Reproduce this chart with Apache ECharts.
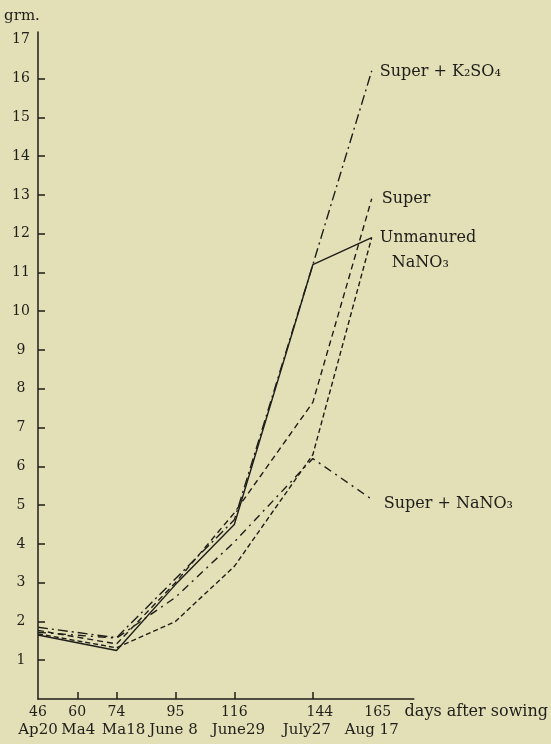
<!DOCTYPE html>
<html>
<head>
<meta charset="utf-8">
<script src="https://cdn.jsdelivr.net/npm/echarts@6/dist/echarts.min.js"></script>
<style>
html,body{margin:0;padding:0;background:#e3dfb6;}
#chart{width:551px;height:744px;}
</style>
</head>
<body>
<div id="chart"></div>
<script>
// Days after sowing at which plants were weighed
const days = [46, 74, 95, 116, 144, 165];
// Tick labels on the x axis (days and calendar dates)
const dayTicks = [46, 60, 74, 95, 116, 144, 165];
const dateLabels = ['Ap20', 'Ma4', 'Ma18', 'June 8', 'June29', 'July27', 'Aug 17'];
const xTickMarks = [60, 74, 95, 116, 144];
// y axis ticks (grm.)
const yLabels = [1,2,3,4,5,6,7,8,9,10,11,12,13,14,15,16,17];
const yTickMarks = [1,2,3,4,5,6,7,8,9,10,11,12,13,14,15,16];

// Series values (grm.)
const unmanured   = [1.65, 1.25, 2.95, 4.50, 11.2, 11.9];
const nano3       = [1.68, 1.32, 2.00, 3.42, 6.30, 11.9];
const superP      = [1.77, 1.42, 3.00, 4.80, 7.65, 12.9];
const superK2SO4  = [1.85, 1.58, 3.10, 4.62, 11.2, 16.2];
const superNaNO3  = [1.72, 1.57, 2.62, 4.05, 6.20, 5.15];

const names = {
  unmanured: 'Unmanured',
  nano3: 'NaNO₃',
  superP: 'Super',
  superK2SO4: 'Super + K₂SO₄',
  superNaNO3: 'Super + NaNO₃'
};

const ink = '#1e1e1a';
const font = '"DejaVu Serif", "Liberation Serif", serif';

// small horizontal nudges of the printed labels (styling only)
const dayNudge  = [0, 0, 0, 0, 0, 7, 6];
const dateNudge = [0, 1, 7, -2, 4, -6, 0];

function pairs(vals){ return days.map((d,i)=>[d, vals[i]]); }

function mk(name, vals, dash, lbl){
  return {
    type: 'line', name: name, data: pairs(vals),
    showSymbol: false, silent: true, animation: false,
    lineStyle: { color: ink, width: 1.4, type: dash },
    endLabel: Object.assign({
      show: true, formatter: name, color: ink,
      fontFamily: font, fontSize: 16
    }, lbl)
  };
}

const rich = {};
dayTicks.forEach(function(v, i){
  const dn = dayNudge[i], tn = dateNudge[i];
  rich['a' + i] = { fontFamily: font, fontSize: 14, color: ink, lineHeight: 18,
    padding: dn >= 0 ? [0, 0, 0, 2 * dn] : [0, -2 * dn, 0, 0] };
  rich['b' + i] = { fontFamily: font, fontSize: 15, color: ink, lineHeight: 19,
    padding: tn >= 0 ? [0, 0, 0, 2 * tn] : [0, -2 * tn, 0, 0] };
});

const chart = echarts.init(document.getElementById('chart'), null, {renderer:'canvas'});
chart.setOption({
  backgroundColor: '#e3dfb6',
  animation: false,
  grid: { left: 38, right: 137, top: 32, bottom: 45, containLabel: false },
  xAxis: {
    type: 'value', min: 46, max: 180,
    name: 'days after sowing', nameLocation: 'end', nameGap: -11,
    nameTextStyle: { color: ink, fontFamily: font, fontSize: 16, align: 'left', verticalAlign: 'top', padding: [5,0,0,0] },
    axisLine: { show: true, lineStyle: { color: ink, width: 1.5 } },
    axisTick: { show: true, inside: true, length: 7, customValues: xTickMarks, lineStyle: { color: ink, width: 1.5 } },
    axisLabel: {
      customValues: dayTicks, margin: 4, color: ink, fontFamily: font,
      showMinLabel: true, showMaxLabel: true, hideOverlap: false,
      formatter: function(v){ const i = dayTicks.indexOf(v); return '{a' + i + '|' + v + '}\n{b' + i + '|' + dateLabels[i] + '}'; },
      rich: rich
    },
    splitLine: { show: false }
  },
  yAxis: {
    type: 'value', min: 0, max: 17.2,
    name: 'grm.', nameLocation: 'end', nameGap: 8,
    nameTextStyle: { color: ink, fontFamily: font, fontSize: 15, align: 'center', padding: [0, 32, 0, 0] },
    axisLine: { show: true, lineStyle: { color: ink, width: 1.5 } },
    axisTick: { show: true, inside: true, length: 7, customValues: yTickMarks, lineStyle: { color: ink, width: 1.5 } },
    axisLabel: { customValues: yLabels, margin: 17, align: 'center', color: ink, fontFamily: font, fontSize: 14,
      showMinLabel: true, showMaxLabel: true },
    splitLine: { show: false }
  },
  series: [
    mk(names.unmanured, unmanured, 'solid', { distance: 8, offset: [0, 0] }),
    mk(names.nano3, nano3, [5, 3], { distance: 20, offset: [0, 25] }),
    mk(names.superP, superP, [6, 4], { distance: 10, offset: [0, 0] }),
    mk(names.superK2SO4, superK2SO4, [10, 4, 2, 4], { distance: 8, offset: [0, 1] }),
    mk(names.superNaNO3, superNaNO3, [8, 5, 2, 5], { distance: 12, offset: [0, 5] })
  ]
});
</script>
</body>
</html>
